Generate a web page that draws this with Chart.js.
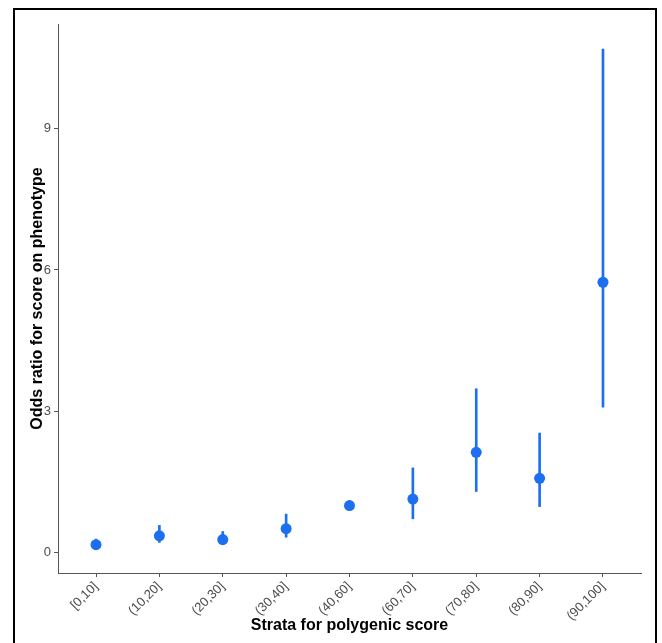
<!DOCTYPE html>
<html>
<head>
<meta charset="utf-8">
<script src="https://cdn.jsdelivr.net/npm/chart.js@4.4.1/dist/chart.umd.min.js"></script>
<style>
  html, body { margin:0; padding:0; background:#fff; }
  #wrap { position:relative; width:662px; height:643px; overflow:hidden; }
  #frame { position:absolute; left:13px; top:8px; width:644px; height:700px; box-sizing:border-box; border:2px solid #000; pointer-events:none; }
  canvas { position:absolute; left:0; top:0; }
</style>
</head>
<body>
<div id="wrap">
  <canvas id="c" width="662" height="643"></canvas>
  <div id="frame"></div>
</div>
<script>
const categories = ['[0,10]','(10,20]','(20,30]','(30,40]','(40,60]','(60,70]','(70,80]','(80,90]','(90,100]'];
const oddsRatio  = [0.17, 0.36, 0.28, 0.51, 1.00, 1.14, 2.13, 1.58, 5.74];
const lowerCI    = [0.10, 0.22, 0.17, 0.33, null, 0.72, 1.30, 0.98, 3.09];
const upperCI    = [0.29, 0.58, 0.45, 0.82, null, 1.80, 3.48, 2.54, 10.69];
const yTicks     = [0, 3, 6, 9];

const blue = '#1c6ff0';
const font = 'Liberation Sans, Arial, sans-serif';

const pointData = categories.map((c, i) => ({ x: i, y: oddsRatio[i] }));
const barData = [];
categories.forEach((c, i) => {
  if (lowerCI[i] !== null && upperCI[i] !== null) barData.push({ x: i, y: [lowerCI[i], upperCI[i]] });
});

new Chart(document.getElementById('c'), {
  type: 'scatter',
  data: {
    datasets: [
      { type: 'scatter', data: pointData, backgroundColor: blue, borderWidth: 0, pointRadius: 5.5, order: 0 },
      { type: 'bar', data: barData, backgroundColor: blue, barThickness: 2, borderWidth: 0, grouped: false, order: 1 }
    ]
  },
  options: {
    responsive: false,
    animation: false,
    devicePixelRatio: 1,
    layout: { padding: { left: 0, top: 24, right: 21, bottom: 0 } },
    plugins: { legend: { display: false }, tooltip: { enabled: false } },
    scales: {
      x: {
        type: 'linear',
        offset: false,
        min: -0.6, max: 8.6,
        afterBuildTicks: (axis) => { axis.ticks = categories.map((c, i) => ({ value: i })); },
        afterFit: (scale) => { scale.height = 70; },
        ticks: {
          autoSkip: false, minRotation: 45, maxRotation: 45, padding: 2,
          color: '#4d4d4d', font: { family: font, size: 13 },
          callback: (v) => categories[v]
        },
        grid: { display: true, offset: false, drawOnChartArea: false, drawTicks: true, tickLength: 4, color: '#555' },
        border: { display: true, color: '#555', width: 1 },
        title: { display: true, text: 'Strata for polygenic score', color: '#000',
                 font: { family: font, size: 16, weight: 'bold' }, padding: { top: 0, bottom: 8 } }
      },
      y: {
        type: 'linear',
        min: -0.43, max: 11.22,
        afterBuildTicks: (axis) => { axis.ticks = yTicks.map(v => ({ value: v })); },
        afterFit: (scale) => { scale.width = 58; },
        ticks: { color: '#4d4d4d', font: { family: font, size: 13 }, padding: 3 },
        grid: { display: true, drawOnChartArea: false, drawTicks: true, tickLength: 4, color: '#555' },
        border: { display: true, color: '#555', width: 1 },
        title: { display: true, text: 'Odds ratio for score on phenotype', color: '#000',
                 font: { family: font, size: 16, weight: 'bold' }, padding: { top: 28, bottom: 0 } }
      }
    }
  }
});
</script>
</body>
</html>
